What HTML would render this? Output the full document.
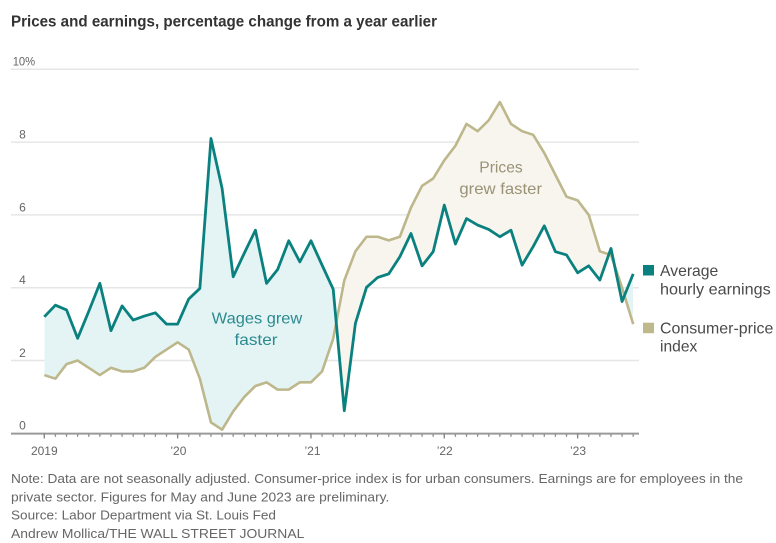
<!DOCTYPE html>
<html><head><meta charset="utf-8"><style>
html,body{margin:0;padding:0;background:#fff;}
svg{display:block;font-family:"Liberation Sans",sans-serif;}
</style></head><body>
<svg width="776" height="543" viewBox="0 0 776 543" xmlns="http://www.w3.org/2000/svg">
<rect x="0" y="0" width="776" height="543" fill="#fff"/>
<text x="11" y="26.5" font-size="16" font-weight="bold" fill="#333" textLength="426" lengthAdjust="spacingAndGlyphs">Prices and earnings, percentage change from a year earlier</text>

<g stroke="#e6e6e6" stroke-width="1.5">
<line x1="11" y1="69.3" x2="639" y2="69.3"/>
<line x1="11" y1="142.1" x2="639" y2="142.1"/>
<line x1="11" y1="214.9" x2="639" y2="214.9"/>
<line x1="11" y1="287.7" x2="639" y2="287.7"/>
<line x1="11" y1="360.5" x2="639" y2="360.5"/>
</g>
<g font-size="12" fill="#666">
<text x="12.7" y="65.5" textLength="22.5" lengthAdjust="spacingAndGlyphs">10%</text>
<text x="25.8" y="138.5" text-anchor="end">8</text>
<text x="25.8" y="211.3" text-anchor="end">6</text>
<text x="25.8" y="284.1" text-anchor="end">4</text>
<text x="25.8" y="356.9" text-anchor="end">2</text>
<text x="25.8" y="429.7" text-anchor="end">0</text>
</g>

<g transform="translate(44.3 433.3) scale(11.1111 -36.4)">
<defs>
<clipPath id="aboveCpi"><polygon points="0,1.6 1,1.5 2,1.9 3,2.0 4,1.8 5,1.6 6,1.8 7,1.7 8,1.7 9,1.8 10,2.1 11,2.3 12,2.5 13,2.3 14,1.5 15,0.3 16,0.1 17,0.6 18,1.0 19,1.3 20,1.4 21,1.2 22,1.2 23,1.4 24,1.4 25,1.7 26,2.6 27,4.2 28,5.0 29,5.4 30,5.4 31,5.3 32,5.4 33,6.2 34,6.8 35,7.0 36,7.5 37,7.9 38,8.5 39,8.3 40,8.6 41,9.1 42,8.5 43,8.3 44,8.2 45,7.7 46,7.1 47,6.5 48,6.4 49,6.0 50,5.0 51,4.9 52,4.0 53,3.0 53,11 0,11"/></clipPath>
<clipPath id="aboveEarn"><polygon points="0,3.2 1,3.52 2,3.39 3,2.61 4,3.35 5,4.12 6,2.82 7,3.5 8,3.11 9,3.22 10,3.31 11,3.0 12,3.0 13,3.69 14,3.98 15,8.1 16,6.73 17,4.3 18,4.95 19,5.58 20,4.12 21,4.5 22,5.29 23,4.71 24,5.29 25,4.62 26,3.96 27,0.62 28,3.02 29,4.01 30,4.28 31,4.38 32,4.85 33,5.49 34,4.6 35,4.99 36,6.27 37,5.2 38,5.9 39,5.72 40,5.6 41,5.4 42,5.58 43,4.62 44,5.13 45,5.7 46,4.99 47,4.9 48,4.41 49,4.6 50,4.21 51,5.08 52,3.62 53,4.38 53,11 0,11"/></clipPath>
</defs>
<polygon clip-path="url(#aboveCpi)" fill="#e4f4f5" points="0,3.2 1,3.52 2,3.39 3,2.61 4,3.35 5,4.12 6,2.82 7,3.5 8,3.11 9,3.22 10,3.31 11,3.0 12,3.0 13,3.69 14,3.98 15,8.1 16,6.73 17,4.3 18,4.95 19,5.58 20,4.12 21,4.5 22,5.29 23,4.71 24,5.29 25,4.62 26,3.96 27,0.62 28,3.02 29,4.01 30,4.28 31,4.38 32,4.85 33,5.49 34,4.6 35,4.99 36,6.27 37,5.2 38,5.9 39,5.72 40,5.6 41,5.4 42,5.58 43,4.62 44,5.13 45,5.7 46,4.99 47,4.9 48,4.41 49,4.6 50,4.21 51,5.08 52,3.62 53,4.38 53,-1 0,-1"/>
<polygon clip-path="url(#aboveEarn)" fill="#f7f5ee" points="0,1.6 1,1.5 2,1.9 3,2.0 4,1.8 5,1.6 6,1.8 7,1.7 8,1.7 9,1.8 10,2.1 11,2.3 12,2.5 13,2.3 14,1.5 15,0.3 16,0.1 17,0.6 18,1.0 19,1.3 20,1.4 21,1.2 22,1.2 23,1.4 24,1.4 25,1.7 26,2.6 27,4.2 28,5.0 29,5.4 30,5.4 31,5.3 32,5.4 33,6.2 34,6.8 35,7.0 36,7.5 37,7.9 38,8.5 39,8.3 40,8.6 41,9.1 42,8.5 43,8.3 44,8.2 45,7.7 46,7.1 47,6.5 48,6.4 49,6.0 50,5.0 51,4.9 52,4.0 53,3.0 53,-1 0,-1"/>
<polyline fill="none" stroke="#bdb78b" stroke-width="2.6" vector-effect="non-scaling-stroke" stroke-linejoin="round" points="0,1.6 1,1.5 2,1.9 3,2.0 4,1.8 5,1.6 6,1.8 7,1.7 8,1.7 9,1.8 10,2.1 11,2.3 12,2.5 13,2.3 14,1.5 15,0.3 16,0.1 17,0.6 18,1.0 19,1.3 20,1.4 21,1.2 22,1.2 23,1.4 24,1.4 25,1.7 26,2.6 27,4.2 28,5.0 29,5.4 30,5.4 31,5.3 32,5.4 33,6.2 34,6.8 35,7.0 36,7.5 37,7.9 38,8.5 39,8.3 40,8.6 41,9.1 42,8.5 43,8.3 44,8.2 45,7.7 46,7.1 47,6.5 48,6.4 49,6.0 50,5.0 51,4.9 52,4.0 53,3.0"/>
<polyline fill="none" stroke="#0a817f" stroke-width="2.8" vector-effect="non-scaling-stroke" stroke-linejoin="round" points="0,3.2 1,3.52 2,3.39 3,2.61 4,3.35 5,4.12 6,2.82 7,3.5 8,3.11 9,3.22 10,3.31 11,3.0 12,3.0 13,3.69 14,3.98 15,8.1 16,6.73 17,4.3 18,4.95 19,5.58 20,4.12 21,4.5 22,5.29 23,4.71 24,5.29 25,4.62 26,3.96 27,0.62 28,3.02 29,4.01 30,4.28 31,4.38 32,4.85 33,5.49 34,4.6 35,4.99 36,6.27 37,5.2 38,5.9 39,5.72 40,5.6 41,5.4 42,5.58 43,4.62 44,5.13 45,5.7 46,4.99 47,4.9 48,4.41 49,4.6 50,4.21 51,5.08 52,3.62 53,4.38"/>
</g>

<g font-size="16" text-anchor="middle">
<text x="257" y="323.3" fill="#2a8a90" textLength="90.6" lengthAdjust="spacingAndGlyphs">Wages grew</text>
<text x="256" y="345" fill="#2a8a90" textLength="43" lengthAdjust="spacingAndGlyphs">faster</text>
<text x="501" y="172.7" fill="#9a9276" textLength="43.4" lengthAdjust="spacingAndGlyphs">Prices</text>
<text x="500.7" y="194" fill="#9a9276" textLength="82.7" lengthAdjust="spacingAndGlyphs">grew faster</text>
</g>

<line x1="11" y1="433.6" x2="639" y2="433.6" stroke="#9a9a9a" stroke-width="2"/>
<line x1="43.65" y1="435.6" x2="634.5" y2="435.6" stroke="#888" stroke-width="2.2" stroke-dasharray="1.3 9.811"/>
<g stroke="#888" stroke-width="1.3">
<line x1="44.3" y1="433" x2="44.3" y2="438.5"/>
<line x1="177.6" y1="433" x2="177.6" y2="438.5"/>
<line x1="310.97" y1="433" x2="310.97" y2="438.5"/>
<line x1="444.3" y1="433" x2="444.3" y2="438.5"/>
<line x1="577.6" y1="433" x2="577.6" y2="438.5"/>
</g>
<g font-size="12" fill="#666" text-anchor="middle">
<text x="44.3" y="455" textLength="26.7" lengthAdjust="spacingAndGlyphs">2019</text>
<text x="178.4" y="455">’20</text>
<text x="312.5" y="455">’21</text>
<text x="444.7" y="455">’22</text>
<text x="578" y="455">’23</text>
</g>

<rect x="643" y="265" width="11" height="10.5" fill="#0a817f"/>
<rect x="643" y="322.7" width="11" height="10.5" fill="#bdb98a"/>
<g font-size="16" fill="#4a4a4a">
<text x="660" y="276" textLength="58.3" lengthAdjust="spacingAndGlyphs">Average</text>
<text x="660" y="294.3" textLength="110.7" lengthAdjust="spacingAndGlyphs">hourly earnings</text>
<text x="660" y="333.5" textLength="113.3" lengthAdjust="spacingAndGlyphs">Consumer-price</text>
<text x="660" y="351.7" textLength="37.3" lengthAdjust="spacingAndGlyphs">index</text>
</g>

<g font-size="12.5" fill="#666">
<text x="11" y="483" textLength="732" lengthAdjust="spacingAndGlyphs">Note: Data are not seasonally adjusted. Consumer-price index is for urban consumers. Earnings are for employees in the</text>
<text x="11" y="501.3" textLength="378.4" lengthAdjust="spacingAndGlyphs">private sector. Figures for May and June 2023 are preliminary.</text>
<text x="11" y="519.7" textLength="265" lengthAdjust="spacingAndGlyphs">Source: Labor Department via St. Louis Fed</text>
<text x="11" y="538" textLength="293.3" lengthAdjust="spacingAndGlyphs">Andrew Mollica/THE WALL STREET JOURNAL</text>
</g>
</svg>
</body></html>
